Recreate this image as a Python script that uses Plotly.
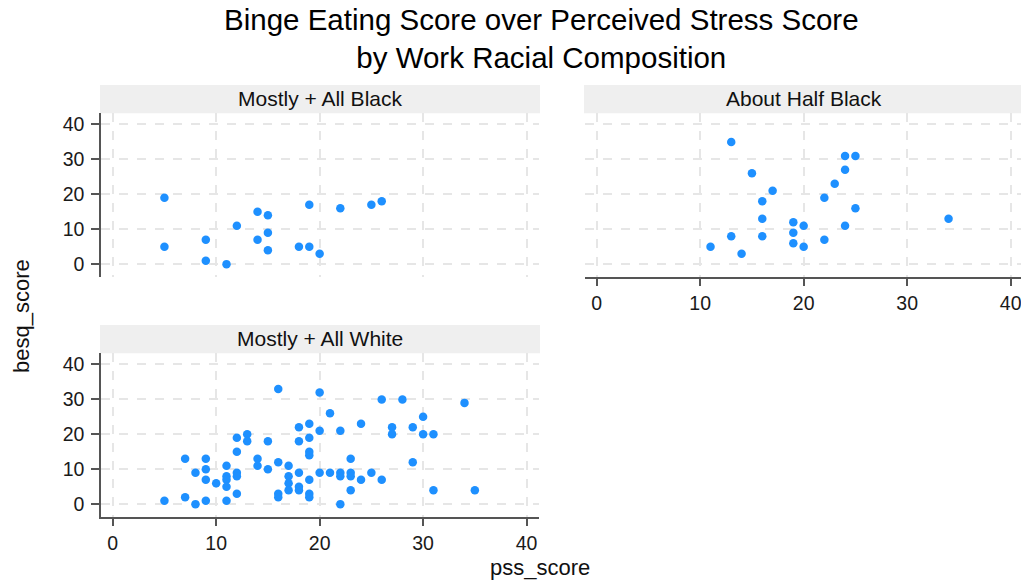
import plotly.graph_objects as go

W, H = 1021, 586

panel_titles = ["Mostly + All Black", "About Half Black", "Mostly + All White"]

black_pss = [5, 5, 9, 9, 11, 12, 14, 15, 15, 14, 15, 18, 19, 19, 20, 22, 25, 26]
black_besq = [19, 5, 7, 1, 0, 11, 15, 14, 9, 7, 4, 5, 5, 17, 3, 16, 17, 18]

half_pss = [13, 15, 17, 16, 16, 16, 13, 11, 14, 19, 19, 19, 20, 20, 22, 22, 23, 24, 25, 24, 25, 24, 34]
half_besq = [35, 26, 21, 18, 13, 8, 8, 5, 3, 12, 9, 6, 11, 5, 19, 7, 23, 31, 31, 27, 16, 11, 13]

white_pss = [5, 7, 7, 8, 8, 9, 9, 9, 9, 10, 11, 11, 11, 11, 11, 12, 12, 12, 12, 12,
             13, 13, 14, 14, 15, 15, 16, 16, 16, 16, 17, 17, 17, 17, 18, 18, 18, 18, 18,
             19, 19, 19, 19, 19, 19, 19, 20, 20, 20, 21, 21, 22, 22, 22, 22, 23, 23, 23, 23,
             24, 24, 25, 26, 26, 28, 27, 27, 29, 29, 30, 30, 31, 31, 34, 35]
white_besq = [1, 13, 2, 9, 0, 13, 10, 7, 1, 6, 11, 8, 7, 5, 1, 19, 15, 9, 8, 3,
              20, 18, 13, 11, 18, 10, 33, 12, 3, 2, 11, 8, 6, 4, 22, 18, 9, 5, 4,
              23, 19, 15, 14, 7, 3, 2, 32, 21, 9, 26, 9, 21, 9, 8, 0, 13, 9, 8, 4,
              23, 7, 9, 30, 7, 30, 22, 20, 22, 12, 25, 20, 20, 4, 29, 4]

ticks = [0, 10, 20, 30, 40]
x_title = "pss_score"
y_title = "besq_score"
title_lines = ["Binge Eating Score over Perceived Stress Score", "by Work Racial Composition"]

FONT = "Liberation Sans, Arial, sans-serif"
BLUE = "#1E90FF"
AXC = "#555555"
GRID = "#e6e6e6"
STRIP = "#efefef"


def px(x):
    return x / W


def py(y):
    return 1 - y / H


fig = go.Figure()
series = [(black_pss, black_besq), (half_pss, half_besq), (white_pss, white_besq)]
for i, (xs, ys) in enumerate(series):
    sfx = "" if i == 0 else str(i + 1)
    fig.add_trace(go.Scatter(
        x=xs, y=ys, mode="markers", xaxis="x" + sfx, yaxis="y" + sfx,
        marker=dict(color=BLUE, size=8.5, line=dict(width=0)),
        showlegend=False, hoverinfo="x+y"))

# panel geometry in pixels: (left, right, top, bottom)
panels = [(101, 539, 113.3, 276.7), (585, 1021, 113.3, 276.7), (101, 539, 353.3, 516.7)]
xranges = [[-1.13, 41.2], [-1.13, 41.0], [-1.13, 41.2]]
show_x = [False, True, True]
show_y = [True, False, True]

common = dict(
    tickvals=ticks, ticktext=[str(t) for t in ticks],
    showgrid=True, gridcolor=GRID, griddash="dash", gridwidth=1.5,
    zeroline=False, linecolor=AXC, linewidth=1.5,
    ticks="outside", ticklen=8, tickwidth=1.5, tickcolor=AXC,
    tickfont=dict(family=FONT, size=19.5, color="#1a1a1a"),
    ticklabeloverflow="allow",
    fixedrange=True,
)

layout = {}
for i, (l, r, t, b) in enumerate(panels):
    sfx = "" if i == 0 else str(i + 1)
    xa = dict(common)
    xa.update(domain=[px(l), px(r)], range=xranges[i], anchor="y" + sfx,
              showline=show_x[i], showticklabels=show_x[i],
              ticks="outside" if show_x[i] else "")
    ya = dict(common)
    ya.update(domain=[py(b), py(t)], range=[-3.6, 43.2], anchor="x" + sfx,
              showline=show_y[i], showticklabels=show_y[i],
              ticks="outside" if show_y[i] else "", ticklabelstandoff=3)
    layout["xaxis" + sfx] = xa
    layout["yaxis" + sfx] = ya

shapes = []
annotations = []
for i, (l, r, t, b) in enumerate(panels):
    shapes.append(dict(type="rect", xref="paper", yref="paper",
                       x0=px(l - 1), x1=px(min(r + 1, W)), y0=py(t), y1=py(t - 28.3),
                       fillcolor=STRIP, line=dict(width=0), layer="below"))
    annotations.append(dict(text=panel_titles[i], xref="paper", yref="paper",
                            x=px((l + r) / 2 if i != 1 else (585 + 1023) / 2),
                            y=py(t - 14.5), xanchor="center", yanchor="middle",
                            showarrow=False,
                            font=dict(family=FONT, size=21, color="#111111")))

annotations.append(dict(text="<br>".join(title_lines), xref="paper", yref="paper",
                        x=px(541), y=py(38.5), xanchor="center", yanchor="middle",
                        showarrow=False, align="center",
                        font=dict(family=FONT, size=29.5, color="#000000")))
annotations.append(dict(text=x_title, xref="paper", yref="paper",
                        x=px(540), y=py(567), xanchor="center", yanchor="middle",
                        showarrow=False,
                        font=dict(family=FONT, size=22, color="#111111")))
annotations.append(dict(text=y_title, xref="paper", yref="paper",
                        x=px(21), y=py(316), xanchor="center", yanchor="middle",
                        showarrow=False, textangle=-90,
                        font=dict(family=FONT, size=22, color="#111111")))

fig.update_layout(
    width=W, height=H, autosize=False,
    margin=dict(l=0, r=0, t=0, b=0),
    paper_bgcolor="white", plot_bgcolor="white",
    shapes=shapes, annotations=annotations,
    **layout,
)

fig.write_html("out.html", config=dict(displayModeBar=False))
